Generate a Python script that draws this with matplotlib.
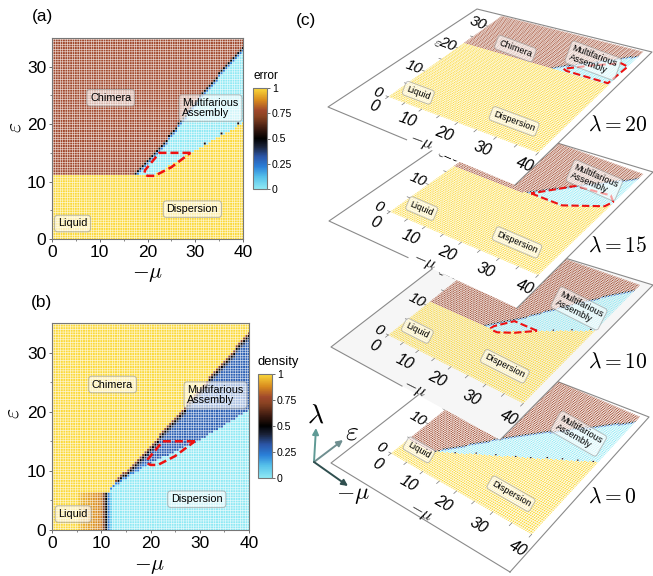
import numpy as np
import matplotlib
matplotlib.use("Agg")
import matplotlib.pyplot as plt
from matplotlib.collections import PolyCollection
from matplotlib.colors import LinearSegmentedColormap, Normalize
from matplotlib.cm import ScalarMappable

plt.rcParams['font.family'] = ['Liberation Sans', 'DejaVu Sans']
plt.rcParams['mathtext.fontset'] = 'cm'

W, H = 653, 576

# phase boundaries (mu, epsilon knots)
chim_a_mu = [0, 17, 24, 32.4, 40]
chim_a_eps = [11.2, 11.2, 17.5, 26.5, 33.5]
disp_a_mu = [0, 17, 21, 25, 30, 40]
disp_a_eps = [11.2, 11.2, 11, 13, 15.4, 20.2]
stray_a_mu = [32, 35.5, 39]

chim_b_mu = [11.5, 13, 18.5, 26.3, 32.7, 40]
chim_b_eps = [6.5, 8.4, 12.9, 20.3, 26.5, 33.5]
disp_b_mu = [11.5, 13.1, 19.2, 30, 40]
disp_b_eps = [6.2, 7.6, 11, 15.2, 20.3]
liquid_mu = [5, 6, 8, 10, 10.5, 11, 11.5, 12]
liquid_val = [1, 0.94, 0.9, 0.86, 0.7, 0.5, 0.22, 0.08]

chim_20_mu = [0, 25, 40]
chim_20_eps = [22.3, 22.3, 33.5]
disp_20_mu = [0, 40]
disp_20_eps = [22.3, 22.3]

chim_15_mu = [0, 20, 40]
chim_15_eps = [17.5, 17.5, 33.5]
disp_15_mu = [0, 30.6, 39, 40]
disp_15_eps = [17.5, 17.8, 22, 23]

chim_0_mu = [0, 7, 20, 40]
chim_0_eps = [4.6, 4.6, 17.5, 33.5]
disp_0_mu = [0, 7, 40]
disp_0_eps = [4.6, 4.6, 20]
stray_0_mu = [12, 16, 20, 24, 27, 30, 33, 36, 39]

# red dashed outlines of the multifarious region
red_10_mu = [29, 22.5, 19.5, 19.3, 20, 21.5, 25, 29]
red_10_eps = [15, 15, 12, 11.3, 11, 11, 12.5, 15]
red_15_mu = [22, 30.6, 39, 39.8, 38, 29, 22]
red_15_eps = [18, 18, 22, 24, 25.5, 24.5, 18]
red_20_mu = [28, 29, 39.5, 40, 38, 33, 28]
red_20_eps = [23, 22.6, 22.5, 29, 29.5, 26.5, 23]

# phase name positions in the flat panels
label_names = ['Chimera', 'Multifarious\nAssembly', 'Dispersion', 'Liquid']
label_mu = [12.3, 33.2, 29.4, 4.3]
label_eps = [24.6, 22.8, 5.2, 2.7]

cbar_ticks = [0, 0.25, 0.5, 0.75, 1]
cbar_labels = ['0', '0.25', '0.5', '0.75', '1']
axis_ticks_mu = [0, 10, 20, 30, 40]
axis_ticks_eps = [0, 10, 20, 30]

mu_cells = np.linspace(0, 40, 81)
eps_cells = np.linspace(0, 35, 81)
d_eps = eps_cells[1] - eps_cells[0]

cmap = LinearSegmentedColormap.from_list('phase', [
    (0.0, '#8fe9f4'), (0.12, '#55c0ea'), (0.22, '#2a7fd8'), (0.32, '#2b56a8'),
    (0.42, '#1a2238'), (0.5, '#000000'), (0.6, '#3c1a10'), (0.72, '#8a4322'),
    (0.78, '#a0482c'), (0.88, '#d88a1e'), (1.0, '#fbd93a')])
norm = Normalize(0, 1)


def error_grid(chim_mu, chim_eps, disp_mu, disp_eps, stray_mu=()):
    m, e = np.meshgrid(mu_cells, eps_cells)
    chim = np.interp(m, chim_mu, chim_eps)
    disp = np.interp(m, disp_mu, disp_eps)
    z = np.full(m.shape, 1.0)
    z[e >= disp] = 0.0
    z[e >= chim] = 0.78
    # thin dark line between chimera and multifarious
    k = (chim - e) / d_eps
    above = e >= disp
    z[above & (k > 0) & (k <= 1)] = 0.5
    z[above & (k > 1) & (k <= 2)] = 0.24
    for s in stray_mu:
        i = np.argmin(abs(mu_cells - s))
        j = np.searchsorted(eps_cells, np.interp(s, disp_mu, disp_eps))
        z[j, i] = 0.48
    return z


def density_grid():
    m, e = np.meshgrid(mu_cells, eps_cells)
    chim = np.interp(m, chim_b_mu, chim_b_eps)
    disp = np.interp(m, disp_b_mu, disp_b_eps)
    z = np.full(m.shape, 0.3)
    z[e < disp] = 0.0
    k = (chim - e) / d_eps
    up = e >= disp
    z[up & (k > 0) & (k <= 1)] = 0.72
    z[up & (k > 1) & (k <= 2)] = 0.5
    z[up & (k > 2) & (k <= 3)] = 0.38
    low = (e - disp) / d_eps
    z[up & (low < 1) & (m < 20)] = 0.22
    z[e >= chim] = 1.0
    z[m < 11.5] = 1.0
    liquid = (e < 6.5) & (m >= 5) & (m <= 12)
    z[liquid] = np.interp(m[liquid], liquid_mu, liquid_val)
    return z


def cell_corners(gap):
    m, e = np.meshgrid(mu_cells, eps_cells)
    hx, hy = 0.25 * gap, 0.219 * gap
    xs = np.stack([m - hx, m + hx, m + hx, m - hx], axis=-1)
    ys = np.stack([e - hy, e - hy, e + hy, e + hy], axis=-1)
    return np.clip(xs, 0, 40), np.clip(ys, 0, 35)


def px_axes(x0, y0, x1, y1):
    return fig.add_axes([x0 / W, 1 - y1 / H, (x1 - x0) / W, (y1 - y0) / H])


def flat_panel(box, grid, red_mu, red_eps, cbox, cname, csize):
    ax = px_axes(*box)
    xs, ys = cell_corners(0.8)
    verts = np.stack([xs, ys], axis=-1).reshape(-1, 4, 2)
    coll = PolyCollection(verts, array=grid.ravel(), cmap=cmap, norm=norm, linewidths=0)
    coll.set_snap(False)
    ax.add_collection(coll)
    ax.plot(red_mu, red_eps, color='#ee1111', lw=1.8, ls=(0, (3.2, 1.6)))
    ax.set_xlim(0, 40)
    ax.set_ylim(0, 35)
    ax.set_xticks(axis_ticks_mu)
    ax.set_yticks(axis_ticks_eps)
    ax.set_xticks(np.arange(5, 40, 10), minor=True)
    ax.set_yticks(np.arange(5, 35, 10), minor=True)
    ax.tick_params(labelsize=12.5, length=2.5, width=0.6, color='#555555', pad=1.5)
    ax.tick_params(which='minor', length=1.5, width=0.5, color='#555555')
    for s in ax.spines.values():
        s.set_color('#777777')
        s.set_linewidth(0.8)
    for name, x, y in zip(label_names, label_mu, label_eps):
        ax.text(x, y, name, fontsize=7.8, ha='center', va='center', ma='left', linespacing=1.0,
                bbox=dict(boxstyle='round,pad=0.3', fc='white', ec='#999999', alpha=0.6, lw=0.8))
    cax = px_axes(*cbox)
    cb = fig.colorbar(ScalarMappable(norm=norm, cmap=cmap), cax=cax, ticks=cbar_ticks)
    cb.ax.set_yticklabels(cbar_labels)
    cb.ax.tick_params(labelsize=7.6, length=2, width=0.6, color='#555555', pad=1.5)
    cb.outline.set_edgecolor('#777777')
    cb.outline.set_linewidth(0.8)
    cb.ax.text(0, 1.06, cname, fontsize=csize, ha='left', va='bottom', transform=cb.ax.transAxes)
    return ax


def homography(src, dst):
    rows, rhs = [], []
    for (x, y), (u, v) in zip(src, dst):
        rows.append([x, y, 1, 0, 0, 0, -u * x, -u * y])
        rows.append([0, 0, 0, x, y, 1, -v * x, -v * y])
        rhs += [u, v]
    return np.append(np.linalg.solve(np.array(rows, float), np.array(rhs, float)), 1).reshape(3, 3)


def apply_h(h, x, y):
    x, y = np.asarray(x, float), np.asarray(y, float)
    w = h[2, 0] * x + h[2, 1] * y + h[2, 2]
    return (h[0, 0] * x + h[0, 1] * y + h[0, 2]) / w, (h[1, 0] * x + h[1, 1] * y + h[1, 2]) / w


def plate(ov, z, corners, outline, fill, lower_frac, grid, red, labels, lam, lam_xy):
    h = homography([(0, 0), (40, 0), (40, 35), (0, 35)], corners)

    ov.fill(*zip(*outline), fc=fill, ec='none', zorder=z)
    left, bottom, right, top = [np.array(p, float) for p in outline]
    mid = left + lower_frac * (bottom - left)
    ov.plot([mid[0], left[0], top[0], right[0], bottom[0]], [mid[1], left[1], top[1], right[1], bottom[1]],
            color='#8a8a8a', lw=0.8, zorder=z)

    # cells with small gaps so the plate keeps the woven look of the flat maps
    xs, ys = cell_corners(0.68)
    px, py = apply_h(h, xs, ys)
    verts = np.stack([px, py], axis=-1).reshape(-1, 4, 2)
    coll = PolyCollection(verts, array=grid.ravel(), cmap=cmap, norm=norm, linewidths=0, zorder=z + 1)
    coll.set_snap(False)
    ov.add_collection(coll)

    if red is not None:
        rx, ry = apply_h(h, *red)
        ov.plot(rx, ry, color='#ee1111', lw=1.5, ls=(0, (3.5, 1.6)), zorder=z + 2)

    # ticks and labels along both plate edges
    p0, p1 = apply_h(h, [20, 21], [0, 0])
    rot = -np.degrees(np.arctan2(p1[1] - p1[0], p0[1] - p0[0]))
    for t in np.arange(0, 41, 5):
        tx, ty = apply_h(h, [t, t], [0, -0.7])
        ov.plot(tx, ty, color='#777777', lw=0.5, zorder=z + 2)
    for t in np.arange(0, 31, 5):
        tx, ty = apply_h(h, [0, -0.7], [t, t])
        ov.plot(tx, ty, color='#777777', lw=0.5, zorder=z + 2)
    for t in axis_ticks_mu:
        tx, ty = apply_h(h, t, -3.6)
        ov.text(tx, ty, str(t), fontsize=11.5, style='italic', rotation=rot, ha='center', va='center',
                rotation_mode='anchor', zorder=z + 3)
    for t in axis_ticks_eps:
        tx, ty = apply_h(h, -3.2, t)
        ov.text(tx, ty, str(t), fontsize=11, style='italic', rotation=rot, ha='center', va='center',
                rotation_mode='anchor', zorder=z + 3)
    tx, ty = apply_h(h, 18, -7.5)
    ov.text(tx, ty, r'$-\mu$', fontsize=12, rotation=rot, ha='center', va='center', rotation_mode='anchor', zorder=z + 3)
    tx, ty = apply_h(h, -6, 19.6)
    ov.text(tx, ty, r'$\varepsilon$', fontsize=10, rotation=rot, ha='center', va='center', rotation_mode='anchor', zorder=z + 3)

    for name, x, y in labels:
        tx, ty = apply_h(h, x, y)
        ov.text(tx, ty, name, fontsize=6.6, rotation=rot, ha='center', va='center', ma='left', rotation_mode='anchor',
                linespacing=1.0, zorder=z + 3,
                bbox=dict(boxstyle='round,pad=0.3', fc='white', ec='#999999', alpha=0.6, lw=0.7))
    ov.text(lam_xy[0], lam_xy[1], lam, fontsize=15.5, ha='left', va='center', zorder=z + 3)


fig = plt.figure(figsize=(W / 100, H / 100), dpi=100)

flat_panel((52, 38, 243, 239), error_grid(chim_a_mu, chim_a_eps, disp_a_mu, disp_a_eps, stray_a_mu),
           red_10_mu, red_10_eps, (253, 88, 267, 189), 'error', 8.6)
flat_panel((52, 323, 249, 530), density_grid(),
           red_10_mu, red_10_eps, (258, 374, 272, 478), 'density', 9.4)

fig.text(32 / W, 1 - 17 / H, '(a)', fontsize=12.4, va='center')
fig.text(31 / W, 1 - 302 / H, '(b)', fontsize=12.4, va='center')
fig.text(296 / W, 1 - 20 / H, '(c)', fontsize=12.4, va='center')
fig.text(148 / W, 1 - 274 / H, r'$-\mu$', fontsize=15.5, ha='center', va='center')
fig.text(150 / W, 1 - 566 / H, r'$-\mu$', fontsize=15.5, ha='center', va='center')
fig.text(15 / W, 1 - 127 / H, r'$\varepsilon$', fontsize=15.5, rotation=90, ha='center', va='center')
fig.text(13 / W, 1 - 413 / H, r'$\varepsilon$', fontsize=15.5, rotation=90, ha='center', va='center')

# the stacked plates live in one overlay axes that uses picture pixels
ov = fig.add_axes([0, 0, 1, 1], facecolor='none')
ov.set_xlim(0, W)
ov.set_ylim(H, 0)
ov.axis('off')

plate(ov, 10, [(391, 453.3), (531.7, 534.3), (640, 416.7), (507, 360)],
      [(331, 463), (510, 572), (649, 417), (476, 350)], 'white', 1.0,
      error_grid(chim_0_mu, chim_0_eps, disp_0_mu, disp_0_eps, stray_0_mu), None,
      [('Liquid', 4.5, 3.7), ('Dispersion', 30, 5), ('Multifarious\nAssembly', 31.4, 24.3)],
      r'$\lambda = 0$', (588, 497))
plate(ov, 20, [(388.3, 335), (523.3, 403.3), (640, 285), (508, 239)],
      [(331, 347), (500, 440), (653, 285), (480, 232)], '#f6f6f6', 0.42,
      error_grid(chim_a_mu, chim_a_eps, disp_a_mu, disp_a_eps, stray_a_mu), (red_10_mu, red_10_eps),
      [('Liquid', 5, 3.7), ('Dispersion', 30, 5), ('Multifarious\nAssembly', 32.6, 23.8)],
      r'$\lambda = 10$', (588, 362))
plate(ov, 30, [(390, 211.7), (538.3, 275), (643.3, 174), (510, 126)],
      [(329, 221), (517, 308), (653, 172), (478, 119)], 'white', 0.42,
      error_grid(chim_15_mu, chim_15_eps, disp_15_mu, disp_15_eps), (red_15_mu, red_15_eps),
      [('Liquid', 5, 3.7), ('Dispersion', 30, 5), ('Multifarious\nAssembly', 31.5, 28)],
      r'$\lambda = 15$', (588, 246))
plate(ov, 40, [(388.3, 96.7), (538.3, 152.7), (643.3, 51.7), (501.7, 16)],
      [(328, 107), (515, 185), (652, 52), (477, 9)], 'white', 0.42,
      error_grid(chim_20_mu, chim_20_eps, disp_20_mu, disp_20_eps), (red_20_mu, red_20_eps),
      [('Chimera', 13, 25), ('Liquid', 5, 3.7), ('Dispersion', 30, 5), ('Multifarious\nAssembly', 32, 28)],
      r'$\lambda = 20$', (588, 125))

# axes triad
for (xe, ye), col in zip([(316, 428), (343, 440), (348, 486)], ['#5f9a95', '#6f8f90', '#2f4f4f']):
    ov.annotate('', xy=(xe, ye), xytext=(314, 462), zorder=60,
                arrowprops=dict(arrowstyle='-|>', color=col, lw=1.4, mutation_scale=9, shrinkA=0, shrinkB=0))
ov.text(316, 416, r'$\lambda$', fontsize=20, ha='center', va='center', zorder=60)
ov.text(352, 432, r'$\varepsilon$', fontsize=20, ha='center', va='center', zorder=60)
ov.text(353, 495, r'$-\mu$', fontsize=17, ha='center', va='center', zorder=60)

fig.savefig('out.png', dpi=100)
